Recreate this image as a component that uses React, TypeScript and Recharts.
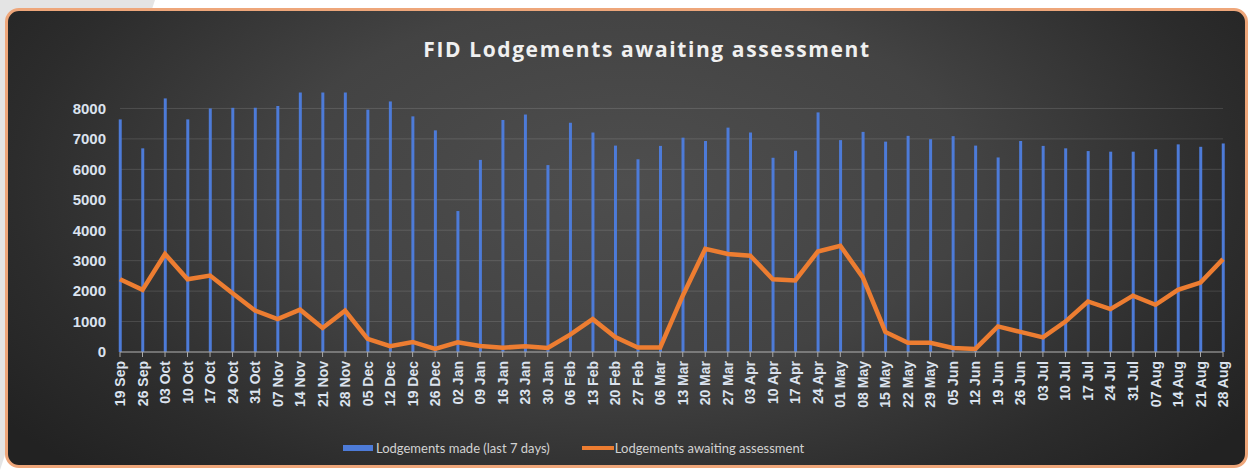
import React from "react";
import { ComposedChart, Bar, Line, XAxis, YAxis, CartesianGrid, Legend } from "recharts";

const weeks = [
  "19 Sep", "26 Sep", "03 Oct", "10 Oct", "17 Oct", "24 Oct", "31 Oct", "07 Nov", "14 Nov", "21 Nov",
  "28 Nov", "05 Dec", "12 Dec", "19 Dec", "26 Dec", "02 Jan", "09 Jan", "16 Jan", "23 Jan", "30 Jan",
  "06 Feb", "13 Feb", "20 Feb", "27 Feb", "06 Mar", "13 Mar", "20 Mar", "27 Mar", "03 Apr", "10 Apr",
  "17 Apr", "24 Apr", "01 May", "08 May", "15 May", "22 May", "29 May", "05 Jun", "12 Jun", "19 Jun",
  "26 Jun", "03 Jul", "10 Jul", "17 Jul", "24 Jul", "31 Jul", "07 Aug", "14 Aug", "21 Aug", "28 Aug",
];

const lodgementsMade = [
  7640, 6690, 8330, 7640, 8000, 8020, 8020, 8080, 8520, 8520,
  8520, 7960, 8230, 7740, 7280, 4630, 6310, 7620, 7800, 6140,
  7530, 7210, 6780, 6330, 6770, 7040, 6930, 7370, 7210, 6380,
  6610, 7870, 6960, 7230, 6910, 7100, 6990, 7090, 6780, 6390,
  6930, 6770, 6690, 6600, 6580, 6580, 6660, 6820, 6740, 6850,
];

const awaitingAssessment = [
  2390, 2040, 3220, 2390, 2510, 1930, 1360, 1080, 1390, 790,
  1360, 430, 190, 330, 100, 320, 200, 140, 190, 130,
  570, 1080, 490, 150, 150, 1850, 3390, 3220, 3160, 2390,
  2350, 3300, 3490, 2450, 660, 300, 300, 130, 100, 840,
  660, 480, 1000, 1660, 1410, 1850, 1550, 2040, 2280, 3050,
];

const yTicks = [0, 1000, 2000, 3000, 4000, 5000, 6000, 7000, 8000];

const data = weeks.map((week, i) => ({
  idx: i,
  week,
  made: lodgementsMade[i],
  awaiting: awaitingAssessment[i],
}));

const BLUE = "#4d7bd8";
const ORANGE = "#ED7D31";
const LABEL = "#dbe2ee";

function WeekTick(props: any) {
  const { x, y, payload } = props;
  return (
    <g transform={`translate(${x},${y})`}>
      <text
        transform="rotate(-90)"
        textAnchor="end"
        dy="0.36em"
        fill={LABEL}
        fontSize={14}
        fontWeight={700}
        fontFamily="'Liberation Sans', Arial, sans-serif"
      >
        {weeks[payload.value]}
      </text>
    </g>
  );
}

function LegendBox() {
  return (
    <div
      style={{
        height: 20,
        display: "flex",
        alignItems: "center",
        marginLeft: 343,
        fontFamily: "Lato, 'Open Sans', sans-serif",
        fontSize: 13,
        color: "#d2d2d2",
      }}
    >
      <span style={{ width: 30, height: 6, background: BLUE, display: "inline-block", marginRight: 3 }} />
      <span style={{ marginRight: 32 }}>Lodgements made (last 7 days)</span>
      <span style={{ width: 32, height: 4, background: ORANGE, display: "inline-block", marginRight: 1 }} />
      <span>Lodgements awaiting assessment</span>
    </div>
  );
}

export default function App() {
  return (
    <div style={{ position: "absolute", left: 0, top: 0, width: 1250, height: 470, background: "#fff", overflow: "hidden" }}>
      <div
        style={{
          position: "absolute",
          left: 0,
          top: 0,
          width: 1250,
          height: 470,
          background: "#e4e4e4",
          clipPath: "polygon(0 0, 155px 0, 0 470px)",
        }}
      />
      <div
        style={{
          position: "absolute",
          left: 5,
          top: 8,
          width: 1237,
          height: 454,
          border: "3px solid #eea67a",
          borderRadius: 14,
          background: "radial-gradient(ellipse 62% 90% at 50% 38%, #4e4e4e 0%, #434343 45%, #2c2c2c 80%, #222 100%)",
        }}
      />
      <div
        style={{
          position: "absolute",
          left: 0,
          top: 35,
          width: 1294,
          textAlign: "center",
          fontFamily: "'Open Sans', sans-serif",
          fontWeight: 700,
          fontSize: 21,
          letterSpacing: 1.6,
          color: "#f0f0f0",
        }}
      >
        FID Lodgements awaiting assessment
      </div>
      <div style={{ position: "absolute", left: 0, top: 0 }}>
        <ComposedChart width={1250} height={470} data={data} margin={{ top: 78, right: 27, bottom: 12, left: 0 }}>
          <CartesianGrid vertical={false} horizontalValues={yTicks} stroke="rgba(255,255,255,0.13)" />
          <XAxis
            type="number"
            dataKey="idx"
            domain={[0, weeks.length - 1]}
            ticks={data.map((d) => d.idx)}
            interval={0}
            height={86}
            tickSize={5}
            tickMargin={4}
            stroke="#a8a8a8"
            tick={<WeekTick />}
          />
          <YAxis
            width={120}
            domain={[0, 9000]}
            ticks={yTicks}
            axisLine={false}
            tickLine={false}
            tickSize={0}
            tickMargin={14}
            tick={{ fill: LABEL, fontSize: 15, fontWeight: 700, fontFamily: "'Liberation Sans', Arial, sans-serif" }}
          />
          <Bar dataKey="made" name="Lodgements made (last 7 days)" fill={BLUE} barSize={3} isAnimationActive={false} />
          <Line
            type="linear"
            dataKey="awaiting"
            name="Lodgements awaiting assessment"
            stroke={ORANGE}
            strokeWidth={4.5}
            dot={false}
            activeDot={false}
            isAnimationActive={false}
          />
          <Legend verticalAlign="bottom" content={() => <LegendBox />} />
        </ComposedChart>
      </div>
    </div>
  );
}
